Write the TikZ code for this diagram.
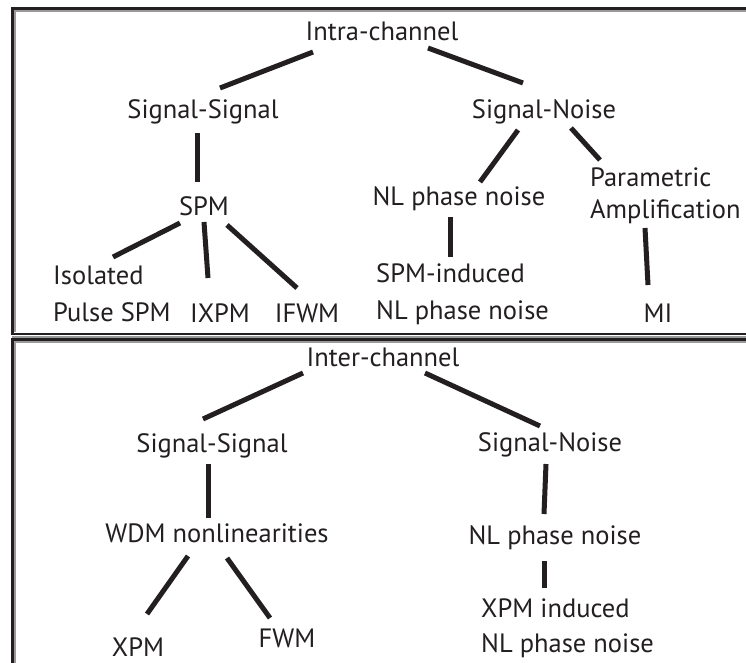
\documentclass[tikz,border=0pt]{standalone}
\usepackage{fontspec}
\setmainfont{PT Sans}
\definecolor{ink}{HTML}{231F20}
\definecolor{shade}{HTML}{9A9A9A}
\begin{document}
\begin{tikzpicture}[x=1pt,y=-1pt,
  conn/.style={line width=5pt, draw=ink},
  frame/.style={line width=2.6pt, draw=ink},
  shadow/.style={line width=1.6pt, draw=shade},
  lbl/.style={inner sep=0pt, text=ink, font=\fontsize{26.5}{36}\selectfont},
  two/.style={lbl, align=left, anchor=west}]
\useasboundingbox (0,0) rectangle (746,662);
\clip (0,0) rectangle (746,662);
\fill[white] (0,0) rectangle (746,662);
% frames
\draw[shadow] (800,10.9) -- (14.9,10.9) -- (14.9,332);
\draw[frame] (800,334) -- (12.5,334) -- (12.5,8.5) -- (800,8.5);
\draw[line width=2pt, draw=shade] (12,336.7) -- (800,336.7);
\draw[shadow] (800,341.9) -- (14.9,341.9) -- (14.9,700);
\draw[frame] (800,339.5) -- (12.5,339.5) -- (12.5,700);
% top panel
\node[lbl, anchor=base] (intra) at (382,40) {Intra-channel};
\node[lbl, anchor=base] (ss1) at (203,118) {Signal-Signal};
\node[lbl, anchor=base] (sn1) at (544,118) {Signal-Noise};
\node[lbl, anchor=base] (spm) at (204,215) {SPM};
\node[two, font=\fontsize{26.5}{37}\selectfont] (iso) at (53,294) {Isolated\\Pulse SPM};
\node[lbl, anchor=base] (ixpm) at (220,322) {IXPM};
\node[lbl, anchor=base] (ifwm) at (307,322) {IFWM};
\node[lbl, anchor=base] (nl1) at (459,205) {NL phase noise};
\node[two, font=\fontsize{26.5}{31.5}\selectfont] (par) at (590,195.7) {Parametric\\Amplification};
\node[two, font=\fontsize{26.5}{37}\selectfont] (spmind) at (376,294.5) {SPM-induced\\NL phase noise};
\node[lbl, anchor=base] (mi) at (658,322) {MI};
% bottom panel
\node[lbl, anchor=base] (inter) at (383,366) {Inter-channel};
\node[lbl, anchor=base] (ss2) at (212,452) {Signal-Signal};
\node[lbl, anchor=base] (sn2) at (550,451) {Signal-Noise};
\node[lbl, anchor=base] (wdm) at (217,542) {WDM nonlinearities};
\node[lbl, anchor=base] (xpm) at (138,656) {XPM};
\node[lbl, anchor=base] (fwm) at (287,647) {FWM};
\node[lbl, anchor=base] (nl2) at (555,544) {NL phase noise};
\node[two, font=\fontsize{26.5}{35}\selectfont] (xpmind) at (481,628.7) {XPM induced\\NL phase noise};
% connectors top
\draw[conn] ([shift={(-69,12)}]intra.base) -- ([shift={(17,-30)}]ss1.base);
\draw[conn] ([shift={(46,8)}]intra.base) -- ([shift={(-21,-35)}]sn1.base);
\draw[conn] ([shift={(-6,15)}]ss1.base) -- ([shift={(-7,-33)}]spm.base);
\draw[conn] ([shift={(-24,8)}]spm.base) -- ([shift={(60,-37)}]iso.west);
\draw[conn] ([shift={(0,7)}]spm.base) -- ([shift={(-12,-44)}]ixpm.base);
\draw[conn] ([shift={(23,10)}]spm.base) -- ([shift={(-10,-34)}]ifwm.base);
\draw[conn] ([shift={(-26,12)}]sn1.base) -- ([shift={(21,-23)}]nl1.base);
\draw[conn] ([shift={(27,10)}]sn1.base) -- ([shift={(10,-35.7)}]par.west);
\draw[conn] ([shift={(-9,12)}]nl1.base) -- ([shift={(74,-37.5)}]spmind.west);
\draw[conn] ([shift={(55,32.3)}]par.west) -- ([shift={(-10,-37)}]mi.base);
% connectors bottom
\draw[conn] ([shift={(-80,7)}]inter.base) -- ([shift={(-9,-33)}]ss2.base);
\draw[conn] ([shift={(42,7)}]inter.base) -- ([shift={(-10,-25)}]sn2.base);
\draw[conn] ([shift={(-4,12)}]ss2.base) -- ([shift={(-9,-24)}]wdm.base);
\draw[conn] ([shift={(-29,14)}]wdm.base) -- ([shift={(9,-42)}]xpm.base);
\draw[conn] ([shift={(10,16)}]wdm.base) -- ([shift={(-17,-29)}]fwm.base);
\draw[conn] ([shift={(-4,13)}]sn2.base) -- ([shift={(-11,-30)}]nl2.base);
\draw[conn] ([shift={(-11,17)}]nl2.base) -- ([shift={(63,-40.7)}]xpmind.west);
\end{tikzpicture}
\end{document}
